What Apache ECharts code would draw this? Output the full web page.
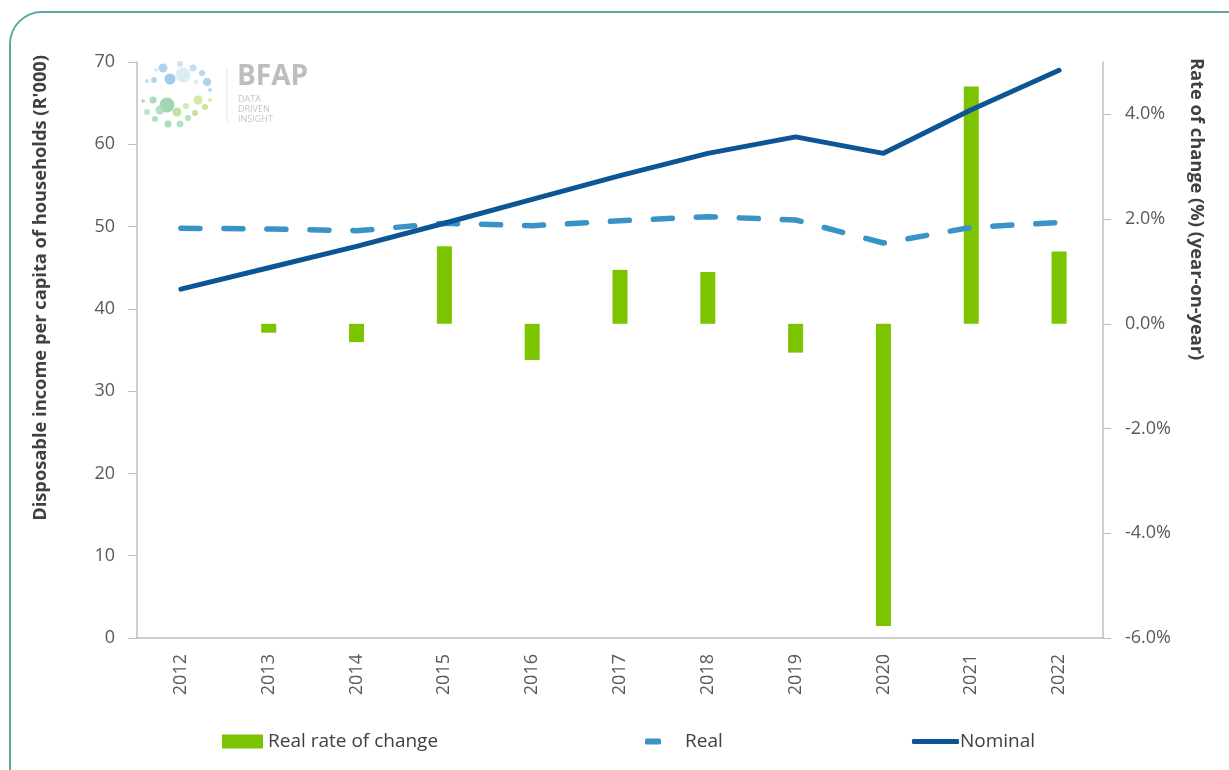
<!DOCTYPE html>
<html>
<head>
<meta charset="utf-8">
<script src="https://cdn.jsdelivr.net/npm/echarts@6/dist/echarts.min.js"></script>
<style>
  html, body { margin: 0; padding: 0; background: #fff; }
  #chart { width: 1229px; height: 770px; }
</style>
</head>
<body>
<div id="chart"></div>
<script>
// values
var years = ['2012', '2013', '2014', '2015', '2016', '2017', '2018', '2019', '2020', '2021', '2022'];
var realChange = [null, -0.17, -0.35, 1.48, -0.69, 1.03, 0.99, -0.55, -5.77, 4.53, 1.38]; // %
var realIncome = [49.8, 49.7, 49.5, 50.4, 50.1, 50.7, 51.2, 50.8, 48.0, 49.9, 50.5];    // R'000
var nominalIncome = [42.4, 45.0, 47.6, 50.4, 53.3, 56.2, 58.9, 60.9, 58.9, 64.2, 69.0]; // R'000
var rateTicks = [-6, -4, -2, 0, 2, 4];

var font = 'Open Sans';
var chart = echarts.init(document.getElementById('chart'));

// logo bubbles (decoration only)
var bubbles = [
    [163, 68, 4.5, '#9ccbe6'], [170, 79, 5.5, '#8fc3e3'], [183, 75, 7.5, '#d4ecf3'], [154, 80, 3, '#a9d2ea'],
    [193, 68, 3.5, '#b5d9ee'], [202, 73, 3, '#a9d2ea'], [207, 82, 4, '#9ccbe6'], [147, 81, 2, '#b5d9ee'],
    [180, 64, 3, '#c4e2f1'], [156, 70, 2, '#d0e8f3'], [210, 90, 2, '#a9d2ea'], [196, 82, 2.5, '#d4ecf3'],
    [167, 105, 7.5, '#8fcfa8'], [153, 100, 3.5, '#9ad5b0'], [160, 110, 4.5, '#a7dbb9'], [168, 124, 3.5, '#9ad5b0'],
    [180, 124, 3.5, '#a7dbb9'], [198, 100, 4.5, '#cce69a'], [205, 107, 3, '#c2e08a'], [188, 118, 3, '#a7dbb9'],
    [195, 113, 3, '#b8dc93'], [143, 101, 2, '#a7dbb9'], [147, 112, 3, '#b3e0c2'], [155, 119, 3, '#a7dbb9'],
    [177, 112, 4.5, '#b8dc93'], [186, 106, 3, '#c8e5a0'], [210, 100, 2, '#cce69a']
];
var logo = bubbles.map(function (b) {
    return { type: 'circle', shape: { cx: b[0], cy: b[1], r: b[2] }, style: { fill: b[3], opacity: 0.85 }, silent: true };
});

var option = {
    animation: false,
    backgroundColor: '#fff',
    textStyle: { fontFamily: font },
    graphic: [
        {
            type: 'rect', shape: { x: 10, y: 12, width: 1260, height: 820, r: 32 },
            style: { fill: 'none', stroke: '#5fa9a3', lineWidth: 2 }, silent: true
        },
        {
            type: 'text', left: 32, top: 55,
            style: {
                text: "Disposable income per capita of households (R'000)",
                font: 'bold 18.3px "Open Sans"', fill: '#404040'
            },
            rotation: Math.PI / 2, silent: true
        },
        {
            type: 'text', left: 1187, top: 58,
            style: {
                text: 'Rate of change (%) (year-on-year)',
                font: 'bold 18.3px "Open Sans"', fill: '#404040'
            },
            rotation: -Math.PI / 2, silent: true
        },
        { type: 'line', shape: { x1: 227, y1: 68, x2: 227, y2: 122 }, style: { stroke: '#e2e2e2', lineWidth: 1 }, silent: true },
        { type: 'text', x: 237, y: 63, style: { text: 'BFAP', font: 'bold 28px "Open Sans"', fill: '#bdbdbd' }, silent: true },
        { type: 'text', x: 238, y: 94, style: { text: 'DATA\nDRIVEN\nINSIGHT', font: '9px "Open Sans"', lineHeight: 10, fill: '#c6c6c6' }, silent: true }
    ].concat(logo),
    grid: { left: 137, right: 126, top: 62, bottom: 132, containLabel: false },
    legend: [
        {
            data: [{ name: 'Real rate of change', icon: 'rect' }],
            left: 217, top: 727, itemWidth: 41, itemHeight: 14,
            textStyle: { fontFamily: font, fontSize: 19, color: '#404040' }
        },
        {
            data: [{ name: 'Real', icon: 'roundRect' }],
            left: 640, top: 727, itemWidth: 16, itemHeight: 6,
            textStyle: { fontFamily: font, fontSize: 19, color: '#404040', padding: [0, 0, 0, 19] }
        },
        {
            data: [{ name: 'Nominal', icon: 'roundRect' }],
            left: 907, top: 727, itemWidth: 47, itemHeight: 5,
            textStyle: { fontFamily: font, fontSize: 19, color: '#404040', padding: [0, 0, 0, -4] }
        }
    ],
    xAxis: {
        type: 'category',
        data: years,
        boundaryGap: true,
        axisLine: { onZero: false, lineStyle: { color: '#bfbfbf', width: 1.5 } },
        axisTick: { show: false },
        axisLabel: { rotate: 90, margin: 16, fontFamily: font, fontSize: 18, color: '#595959' },
        splitLine: { show: false }
    },
    yAxis: [
        {
            type: 'value', min: 0, max: 70, interval: 10,
            axisLine: { show: true, lineStyle: { color: '#bfbfbf', width: 1.5 } },
            axisTick: { show: true, length: 9, lineStyle: { color: '#bfbfbf' } },
            axisLabel: { margin: 22, fontFamily: font, fontSize: 18, color: '#595959' },
            splitLine: { show: false }
        },
        {
            type: 'value', min: -6, max: 5, interval: 1, position: 'right',
            axisLine: { show: true, lineStyle: { color: '#bfbfbf', width: 1.5 } },
            axisTick: { show: true, length: 8, customValues: rateTicks, lineStyle: { color: '#bfbfbf' } },
            axisLabel: {
                margin: 22, fontFamily: font, fontSize: 18, color: '#595959',
                customValues: rateTicks,
                formatter: function (v) { return v.toFixed(1) + '%'; }
            },
            splitLine: { show: false }
        }
    ],
    series: [
        {
            name: 'Real rate of change', type: 'bar', yAxisIndex: 1,
            data: realChange, barWidth: 15,
            itemStyle: { color: '#7cc300' }
        },
        {
            name: 'Real', type: 'line', yAxisIndex: 0,
            data: realIncome, showSymbol: false, symbol: 'none',
            itemStyle: { color: '#3a93c6' },
            lineStyle: { color: '#3a93c6', width: 5.5, type: [19, 24], cap: 'round' }
        },
        {
            name: 'Nominal', type: 'line', yAxisIndex: 0,
            data: nominalIncome, showSymbol: false, symbol: 'none',
            itemStyle: { color: '#0d5696' },
            lineStyle: { color: '#0d5696', width: 5, cap: 'round' }
        }
    ]
};

chart.setOption(option);
window.addEventListener('resize', function () {
    chart.resize();
});
</script>
</body>
</html>
